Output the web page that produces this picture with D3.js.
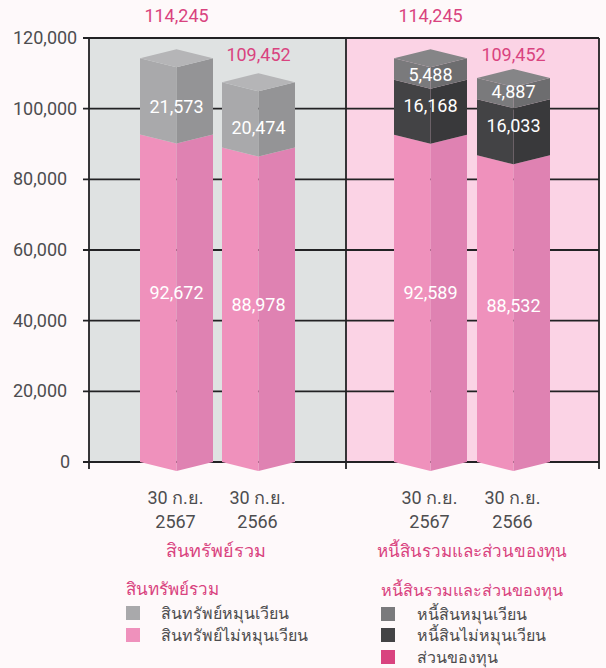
<!DOCTYPE html>
<html>
<head>
<meta charset="utf-8">
<script src="https://cdnjs.cloudflare.com/ajax/libs/d3/7.8.5/d3.min.js"></script>
<style>
html, body { margin: 0; padding: 0; background: #fef9fa; overflow: hidden; }
svg text { font-family: Roboto, "Noto Sans", sans-serif; }
</style>
</head>
<body>
<svg id="chart" width="606" height="668"></svg>
<script>
var yTicks = [0, 20000, 40000, 60000, 80000, 100000, 120000]
var barDates = ['30 ก.ย.', '30 ก.ย.', '30 ก.ย.', '30 ก.ย.']
var barYears = ['2567', '2566', '2567', '2566']
var groupTitles = ['สินทรัพย์รวม', 'หนี้สินรวมและส่วนของทุน']
var totals = [114245, 109452, 114245, 109452]
// baseline of the totals on the value axis
var totalsAt = [124500, 113500, 124500, 113500]

// printed numbers, bottom segment first
var bar1Labels = [92672, 21573]
var bar2Labels = [88978, 20474]
var bar3Labels = [92589, 16168, 5488]
var bar4Labels = [88532, 16033, 4887]

// segment heights as drawn in the picture, they differ a bit from the printed numbers
var bar1Drawn = [92672, 21573]
var bar2Drawn = [88978, 18500]
var bar3Drawn = [92589, 15600, 6056]
var bar4Drawn = [86800, 15900, 6000]

// where the printed numbers sit on the value axis
var bar1LabelAt = [48100, 100500]
var bar2LabelAt = [44700, 94800]
var bar3LabelAt = [48100, 100800, 109800]
var bar4LabelAt = [44400, 95100, 105000]

var legendLeft = ['สินทรัพย์หมุนเวียน', 'สินทรัพย์ไม่หมุนเวียน']
var legendRight = ['หนี้สินหมุนเวียน', 'หนี้สินไม่หมุนเวียน', 'ส่วนของทุน']

var svg = d3.select('#chart')
var pink = '#d9437f'
var textGrey = '#4d4d4f'

var y = d3.scaleLinear().domain([0, 120000]).range([462, 38])

var barLeft = [140, 222, 394, 477]
var barW = 73
var dip = 9

var greyLight = {front: '#a9a9ab', side: '#949496', top: '#b5b5b7'}
var pinkSeg = {front: '#ef91bc', side: '#df82b2', top: '#ef91bc'}
var darkSeg = {front: '#434345', side: '#39393b', top: '#434345'}
var midSeg = {front: '#7a7a7c', side: '#6d6d6f', top: '#858587'}

// panels
svg.append('rect').attr('x', 89).attr('y', y(120000)).attr('width', 257).attr('height', y(0) - y(120000)).attr('fill', '#dfe2e2')
svg.append('rect').attr('x', 346).attr('y', y(120000)).attr('width', 253).attr('height', y(0) - y(120000)).attr('fill', '#fbd3e5')

// grid lines
svg.selectAll('.grid').data(yTicks).enter().append('line')
    .attr('class', 'grid')
    .attr('x1', 83).attr('x2', 599)
    .attr('y1', function(d) { return y(d) }).attr('y2', function(d) { return y(d) })
    .attr('stroke', '#222224').attr('stroke-width', 1.8)

svg.selectAll('.vline').data([89, 346, 599]).enter().append('line')
    .attr('class', 'vline')
    .attr('x1', function(d) { return d }).attr('x2', function(d) { return d })
    .attr('y1', y(120000)).attr('y2', 469)
    .attr('stroke', '#222224').attr('stroke-width', 1.8)

svg.selectAll('.ytick').data(yTicks).enter().append('text')
    .attr('class', 'ytick')
    .attr('x', function(d) { return d === 0 ? 60 : 13 })
    .attr('y', function(d) { return y(d) + 6 })
    .attr('font-size', 18)
    .attr('fill', textGrey)
    .text(function(d) { return d3.format(',')(d) })

function drawBar(i, drawn, labels, labelAt, colors) {
    var x0 = barLeft[i], xm = x0 + barW / 2, x1 = x0 + barW
    var start = 0
    drawn.forEach(function(v, k) {
        var yb = y(start), yt = y(start + v)
        var c = colors[k]
        svg.append('path').attr('fill', c.front)
            .attr('d', d3.line()([[x0, yb], [xm, yb + dip], [xm, yt + dip], [x0, yt]]) + 'Z')
        svg.append('path').attr('fill', c.side)
            .attr('d', d3.line()([[xm, yb + dip], [x1, yb], [x1, yt], [xm, yt + dip]]) + 'Z')
        start += v
    })
    var top = y(start), c = colors[drawn.length - 1]
    svg.append('path').attr('fill', c.top)
        .attr('d', d3.line()([[x0, top], [xm, top - dip], [x1, top], [xm, top + dip]]) + 'Z')
    labels.forEach(function(l, k) {
        svg.append('text')
            .attr('x', xm).attr('y', y(labelAt[k]) + 6.5)
            .attr('text-anchor', 'middle').attr('font-size', 18).attr('fill', '#ffffff')
            .text(d3.format(',')(l))
    })
    svg.append('text')
        .attr('x', xm).attr('y', y(totalsAt[i]))
        .attr('text-anchor', 'middle').attr('font-size', 18).attr('fill', pink)
        .text(d3.format(',')(totals[i]))
}

drawBar(0, bar1Drawn, bar1Labels, bar1LabelAt, [pinkSeg, greyLight])
drawBar(1, bar2Drawn, bar2Labels, bar2LabelAt, [pinkSeg, greyLight])
drawBar(2, bar3Drawn, bar3Labels, bar3LabelAt, [pinkSeg, darkSeg, midSeg])
drawBar(3, bar4Drawn, bar4Labels, bar4LabelAt, [pinkSeg, darkSeg, midSeg])

// x labels
barLeft.forEach(function(b, i) {
    svg.append('text').attr('x', b + barW / 2 - 1).attr('y', 504).attr('text-anchor', 'middle')
        .attr('font-size', 18).attr('fill', textGrey).text(barDates[i])
    svg.append('text').attr('x', b + barW / 2 - 1).attr('y', 528).attr('text-anchor', 'middle')
        .attr('font-size', 18).attr('fill', textGrey).text(barYears[i])
})

svg.append('text').attr('x', 216).attr('y', 557).attr('text-anchor', 'middle').attr('font-size', 18).attr('fill', pink).text(groupTitles[0])
svg.append('text').attr('x', 472).attr('y', 557).attr('text-anchor', 'middle').attr('font-size', 17).attr('fill', pink).text(groupTitles[1])

// legends
svg.append('text').attr('x', 126).attr('y', 595).attr('font-size', 17).attr('fill', pink).text(groupTitles[0])
svg.append('text').attr('x', 381).attr('y', 596).attr('font-size', 16.2).attr('fill', pink).text(groupTitles[1])

function legend(names, colors, boxX, textX, rows) {
    names.forEach(function(n, i) {
        svg.append('rect').attr('x', boxX).attr('y', rows[i] - 7).attr('width', 14).attr('height', 14).attr('fill', colors[i])
        svg.append('text').attr('x', textX).attr('y', rows[i] + 6).attr('font-size', 16).attr('fill', textGrey).text(n)
    })
}
legend(legendLeft, ['#a9a9ab', '#ef91bc'], 126, 161, [613, 635])
legend(legendRight, ['#7a7a7c', '#434345', '#d9437f'], 381, 417, [614, 635, 657])
</script>
</body>
</html>
